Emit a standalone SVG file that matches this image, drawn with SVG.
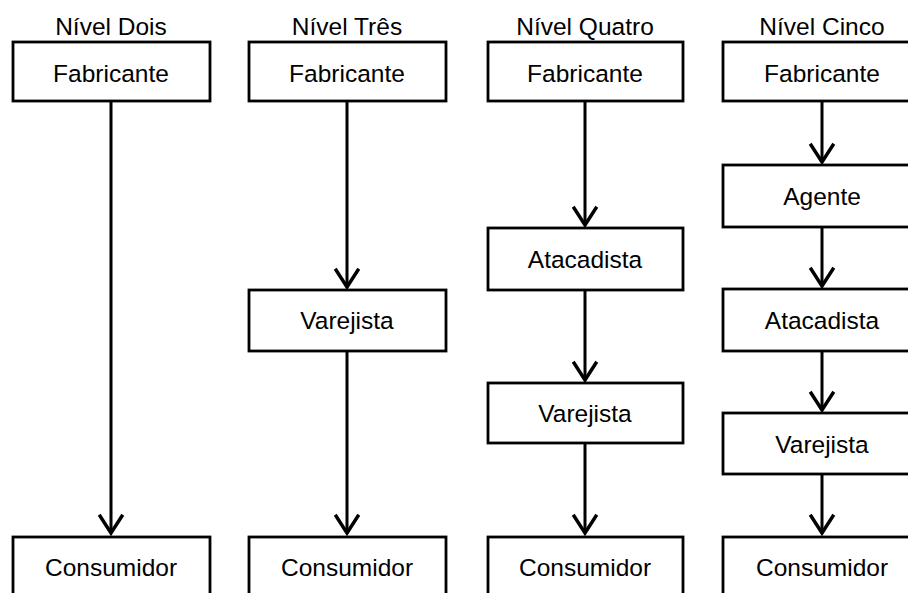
<svg xmlns="http://www.w3.org/2000/svg" width="908" height="593" viewBox="0 0 908 593">
<style>
.box{fill:#fff;stroke:#000;stroke-width:2.8}
.t{font-family:"Liberation Sans",Arial,sans-serif;font-size:24.5px;fill:#000;text-anchor:middle}
.h{font-family:"Liberation Sans",Arial,sans-serif;font-size:24.5px;fill:#000;text-anchor:middle}
.c{stroke:#000;stroke-width:3;fill:none}
</style>
<defs>
<marker id="arr" markerUnits="userSpaceOnUse" markerWidth="30" markerHeight="30" viewBox="-20 -14 24 28" refX="0" refY="0" orient="auto">
<path d="M-17,-11 L0,0 L-17,11" fill="none" stroke="#000" stroke-width="3.2"/>
</marker>
</defs>
<rect width="908" height="593" fill="#fff"/>
<g id="headers">
<text class="h" x="111" y="35">Nível Dois</text>
<text class="h" x="347" y="35">Nível Três</text>
<text class="h" x="585" y="35">Nível Quatro</text>
<text class="h" x="822" y="35">Nível Cinco</text>
</g>
<g id="connectors">
<line class="c" x1="111" y1="101" x2="111" y2="533" marker-end="url(#arr)"/>
<line class="c" x1="347" y1="101" x2="347" y2="287" marker-end="url(#arr)"/>
<line class="c" x1="347" y1="351" x2="347" y2="533" marker-end="url(#arr)"/>
<line class="c" x1="585" y1="101" x2="585" y2="225" marker-end="url(#arr)"/>
<line class="c" x1="585" y1="290" x2="585" y2="380" marker-end="url(#arr)"/>
<line class="c" x1="585" y1="443" x2="585" y2="533" marker-end="url(#arr)"/>
<line class="c" x1="822" y1="101" x2="822" y2="162" marker-end="url(#arr)"/>
<line class="c" x1="822" y1="227" x2="822" y2="286" marker-end="url(#arr)"/>
<line class="c" x1="822" y1="351" x2="822" y2="410" marker-end="url(#arr)"/>
<line class="c" x1="822" y1="474" x2="822" y2="533" marker-end="url(#arr)"/>
</g>
<g id="n1-fabricante"><rect class="box" x="13" y="42" width="197" height="59"/><text class="t" x="111" y="82">Fabricante</text></g>
<g id="n1-consumidor"><rect class="box" x="13" y="537" width="197" height="70"/><text class="t" x="111" y="576">Consumidor</text></g>
<g id="n2-fabricante"><rect class="box" x="249" y="42" width="197" height="59"/><text class="t" x="347" y="82">Fabricante</text></g>
<g id="n2-varejista"><rect class="box" x="249" y="290" width="197" height="61"/><text class="t" x="347" y="329">Varejista</text></g>
<g id="n2-consumidor"><rect class="box" x="249" y="537" width="197" height="70"/><text class="t" x="347" y="576">Consumidor</text></g>
<g id="n3-fabricante"><rect class="box" x="488" y="42" width="195" height="59"/><text class="t" x="585" y="82">Fabricante</text></g>
<g id="n3-atacadista"><rect class="box" x="488" y="228" width="195" height="62"/><text class="t" x="585" y="268">Atacadista</text></g>
<g id="n3-varejista"><rect class="box" x="488" y="383" width="195" height="60"/><text class="t" x="585" y="422">Varejista</text></g>
<g id="n3-consumidor"><rect class="box" x="488" y="537" width="195" height="70"/><text class="t" x="585" y="576">Consumidor</text></g>
<g id="n4-fabricante"><rect class="box" x="723" y="42" width="198" height="59"/><text class="t" x="822" y="82">Fabricante</text></g>
<g id="n4-agente"><rect class="box" x="723" y="165" width="198" height="62"/><text class="t" x="822" y="205">Agente</text></g>
<g id="n4-atacadista"><rect class="box" x="723" y="289" width="198" height="62"/><text class="t" x="822" y="329">Atacadista</text></g>
<g id="n4-varejista"><rect class="box" x="723" y="413" width="198" height="61"/><text class="t" x="822" y="453">Varejista</text></g>
<g id="n4-consumidor"><rect class="box" x="723" y="537" width="198" height="70"/><text class="t" x="822" y="576">Consumidor</text></g>
</svg>
